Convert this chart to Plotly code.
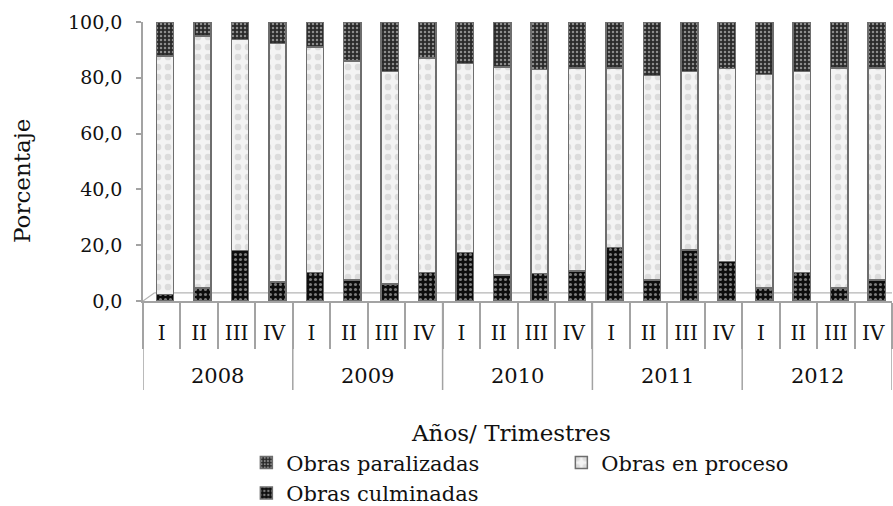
import plotly.graph_objects as go

years = ["2008", "2009", "2010", "2011", "2012"]
quarters = ["I", "II", "III", "IV"]

culminadas = [2.4, 4.6, 18.1, 6.9, 10.2, 7.5, 6.1, 10.3, 17.4, 9.3,
              9.9, 10.8, 19.2, 7.5, 18.3, 14.1, 4.6, 10.2, 4.6, 7.5]
en_proceso = [85.4, 90.4, 75.7, 85.4, 80.9, 78.5, 76.2, 76.8, 67.7, 74.5,
              73.1, 72.8, 64.4, 73.3, 63.9, 69.3, 76.6, 72.0, 79.0, 76.1]
paralizadas = [12.2, 5.0, 6.2, 7.7, 8.9, 14.0, 17.7, 12.9, 14.9, 16.2,
               17.0, 16.4, 16.4, 19.2, 17.8, 16.6, 18.8, 17.8, 16.4, 16.4]

nq = len(quarters)
n = len(years) * nq
xpos = list(range(n))
tick_text = [q for _ in years for q in quarters]
year_centers = [i * nq + (nq - 1) / 2 for i in range(len(years))]
year_bounds = [i * nq - 0.5 for i in range(len(years) + 1)]
quarter_bounds = [i - 0.5 for i in range(n + 1)]

FONT = "DejaVu Serif"
AXC = "#a3a3a3"
outline = dict(color="#6e6e6e", width=1.5)
BW = 0.46
BOFF = -0.14

fig = go.Figure()
fig.add_trace(go.Bar(
    name="Obras culminadas", x=xpos, y=culminadas, width=BW, offset=BOFF,
    marker=dict(color="#111111", line=outline,
                pattern=dict(shape=".", fgcolor="#7a7a7a", bgcolor="#0d0d0d",
                             size=5, solidity=0.3, fillmode="replace")),
))
fig.add_trace(go.Bar(
    name="Obras en proceso", x=xpos, y=en_proceso, width=BW, offset=BOFF,
    marker=dict(color="#ececec", line=outline,
                pattern=dict(shape=".", fgcolor="#dcdcdc", bgcolor="#f3f3f3",
                             size=10, solidity=0.35, fillmode="replace")),
))
fig.add_trace(go.Bar(
    name="Obras paralizadas", x=xpos, y=paralizadas, width=BW, offset=BOFF,
    marker=dict(color="#333333", line=outline,
                pattern=dict(shape=".", fgcolor="#8c8c8c", bgcolor="#2a2a2a",
                             size=4, solidity=0.3, fillmode="replace")),
))

TOP, BOTTOM = 22, 301
PLOT_H = BOTTOM - TOP

fig.update_layout(
    barmode="stack",
    width=893, height=506,
    margin=dict(l=143, r=1, t=TOP, b=506 - BOTTOM, autoexpand=False),
    paper_bgcolor="white", plot_bgcolor="white",
    font=dict(family=FONT, size=19, color="#111111"),
    separators=",.",
    showlegend=True,
    legend=dict(orientation="h", traceorder="reversed",
                x=0.138, xanchor="left", y=-0.507, yanchor="top",
                entrywidth=270, entrywidthmode="pixels",
                font=dict(family=FONT, size=21), tracegroupgap=0),
    xaxis=dict(
        range=[-0.5, n - 0.5], automargin=False,
        tickmode="array", tickvals=xpos, ticktext=tick_text,
        ticks="", ticklabelstandoff=13,
        tickfont=dict(family=FONT, size=20),
        showline=True, linecolor=AXC, linewidth=1.5,
        minor=dict(tickmode="array", tickvals=quarter_bounds, ticks="outside",
                   ticklen=46, tickcolor=AXC, tickwidth=1.5, showgrid=False),
        showgrid=False, zeroline=False,
    ),
    yaxis=dict(
        range=[0, 100], automargin=False,
        tickvals=[0, 20, 40, 60, 80, 100], tickformat=".1f",
        showline=True, linecolor=AXC, linewidth=1.5,
        ticks="outside", ticklen=5, tickcolor=AXC, tickwidth=1.5,
        ticklabelstandoff=10,
        showgrid=False, zeroline=False,
        tickfont=dict(family=FONT, size=19),
    ),
)

# year dividers and labels (second level of the category axis)
div_bottom = -(390 - BOTTOM) / PLOT_H
for xb in year_bounds:
    fig.add_shape(type="line", xref="x", yref="paper", x0=xb, x1=xb,
                  y0=0, y1=div_bottom, line=dict(color=AXC, width=1.5))
for xc, yl in zip(year_centers, years):
    fig.add_annotation(x=xc, xref="x", y=-(376 - BOTTOM) / PLOT_H, yref="paper",
                       text=yl, showarrow=False, yanchor="middle",
                       font=dict(family=FONT, size=21))

# axis titles
fig.add_annotation(x=(511 - 143) / 749, xref="paper", y=-(433 - BOTTOM) / PLOT_H, yref="paper",
                   text="Años/ Trimestres", showarrow=False, yanchor="middle",
                   font=dict(family=FONT, size=23))
fig.add_annotation(x=(22 - 143) / 749, xref="paper", y=(BOTTOM - 181) / PLOT_H, yref="paper",
                   text="Porcentaje", textangle=-90, showarrow=False,
                   xanchor="center", yanchor="middle",
                   font=dict(family=FONT, size=23))

# 3D floor edge
fig.add_shape(type="line", xref="paper", yref="y", x0=0.015, x1=1, y0=2.9, y1=2.9,
              line=dict(color="#b5b5b5", width=1.2), layer="below")
fig.add_shape(type="line", xref="paper", yref="y", x0=0, x1=0.015, y0=0, y1=2.9,
              line=dict(color="#b5b5b5", width=1.2), layer="below")

fig.write_html("out.html", config={"displayModeBar": False},
               post_script="document.body.style.margin='0';")
